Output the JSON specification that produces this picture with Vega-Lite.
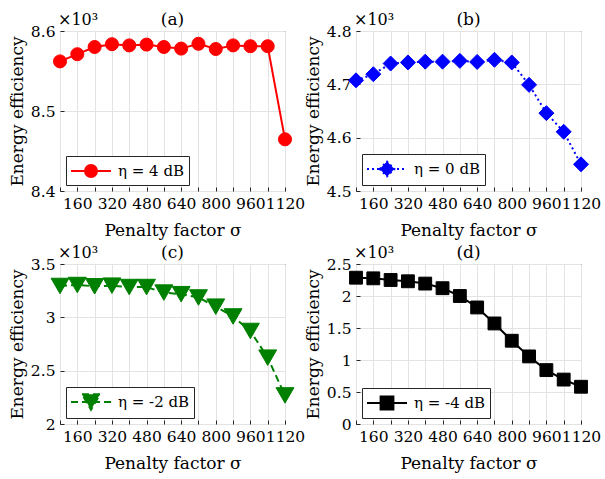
{
  "$schema": "https://vega.github.io/schema/vega-lite/v6.json",
  "background": "white",
  "padding": {"left": 7, "top": 10, "right": 2, "bottom": 2},
  "columns": 2,
  "spacing": {"row": 73, "column": 71},
  "bounds": "flush",
  "resolve": {"scale": {"color": "independent"}, "legend": {"color": "independent"}},
  "datasets": {
    "a": [
      {"sigma": 80, "ee": 8.562}, {"sigma": 160, "ee": 8.571}, {"sigma": 240, "ee": 8.580}, {"sigma": 320, "ee": 8.5835},
      {"sigma": 400, "ee": 8.582}, {"sigma": 480, "ee": 8.583}, {"sigma": 560, "ee": 8.580}, {"sigma": 640, "ee": 8.578},
      {"sigma": 720, "ee": 8.584}, {"sigma": 800, "ee": 8.5775}, {"sigma": 880, "ee": 8.582}, {"sigma": 960, "ee": 8.581},
      {"sigma": 1040, "ee": 8.581}, {"sigma": 1120, "ee": 8.4646}
    ],
    "b": [
      {"sigma": 80, "ee": 4.7075}, {"sigma": 160, "ee": 4.719}, {"sigma": 240, "ee": 4.739}, {"sigma": 320, "ee": 4.741},
      {"sigma": 400, "ee": 4.7425}, {"sigma": 480, "ee": 4.7425}, {"sigma": 560, "ee": 4.744}, {"sigma": 640, "ee": 4.742},
      {"sigma": 720, "ee": 4.746}, {"sigma": 800, "ee": 4.741}, {"sigma": 880, "ee": 4.699}, {"sigma": 960, "ee": 4.646},
      {"sigma": 1040, "ee": 4.611}, {"sigma": 1120, "ee": 4.550}
    ],
    "c": [
      {"sigma": 80, "ee": 3.294}, {"sigma": 160, "ee": 3.303}, {"sigma": 240, "ee": 3.291}, {"sigma": 320, "ee": 3.297},
      {"sigma": 400, "ee": 3.284}, {"sigma": 480, "ee": 3.284}, {"sigma": 560, "ee": 3.232}, {"sigma": 640, "ee": 3.217},
      {"sigma": 720, "ee": 3.186}, {"sigma": 800, "ee": 3.100}, {"sigma": 880, "ee": 3.008}, {"sigma": 960, "ee": 2.872},
      {"sigma": 1040, "ee": 2.622}, {"sigma": 1120, "ee": 2.268}
    ],
    "d": [
      {"sigma": 80, "ee": 2.286}, {"sigma": 160, "ee": 2.276}, {"sigma": 240, "ee": 2.25}, {"sigma": 320, "ee": 2.23},
      {"sigma": 400, "ee": 2.194}, {"sigma": 480, "ee": 2.122}, {"sigma": 560, "ee": 2.0}, {"sigma": 640, "ee": 1.821},
      {"sigma": 720, "ee": 1.571}, {"sigma": 800, "ee": 1.301}, {"sigma": 880, "ee": 1.056}, {"sigma": 960, "ee": 0.842},
      {"sigma": 1040, "ee": 0.694}, {"sigma": 1120, "ee": 0.582}
    ]
  },
  "concat": [
    {
      "width": 225, "height": 160,
      "data": {"name": "a"},
      "layer": [
        {"mark": {"type": "line", "color": "#ff0000", "strokeWidth": 2},
         "encoding": {
           "x": {"field": "sigma", "type": "quantitative", "title": "Penalty factor σ", "scale": {"domain": [80, 1120], "nice": false, "zero": false},
                 "axis": {"values": [80,160,240,320,400,480,560,640,720,800,880,960,1040,1120], "tickCount": 100, "format": "d", "labelOverlap": false, "labelExpr": "datum.value % 160 == 0 ? datum.label : ''"}},
           "y": {"field": "ee", "type": "quantitative", "title": "Energy efficiency", "scale": {"domain": [8.4, 8.6], "nice": false, "zero": false},
                 "axis": {"values": [8.4, 8.5, 8.6], "tickCount": 100, "format": ".1f", "labelOverlap": false}}
         }},
        {"mark": {"type": "point", "shape": "circle", "filled": true, "size": 170, "opacity": 1, "stroke": "#ff0000", "strokeWidth": 1},
         "encoding": {
           "x": {"field": "sigma", "type": "quantitative"},
           "y": {"field": "ee", "type": "quantitative"},
           "color": {"datum": "η = 4 dB", "type": "nominal", "scale": {"range": ["#ff0000"]},
                     "legend": {"symbolType": "M-2,0L2,0M0.6,0A0.6,0.6,0,1,1,-0.6,0A0.6,0.6,0,1,1,0.6,0Z", "symbolStrokeColor": "#ff0000", "symbolFillColor": "#ff0000"}}
         }},
        {"data": {"values": [{"label": "×10³"}]},
         "mark": {"type": "text", "align": "left", "baseline": "alphabetic", "dy": -6, "dx": -2, "font": "DejaVu Serif", "fontSize": 16, "color": "black"},
         "encoding": {"x": {"datum": 80}, "y": {"datum": 8.6}, "text": {"field": "label"}}},
        {"data": {"values": [{"label": "(a)"}]},
         "mark": {"type": "text", "align": "center", "baseline": "alphabetic", "dy": -6, "font": "DejaVu Serif", "fontSize": 17, "color": "black"},
         "encoding": {"x": {"datum": 600}, "y": {"datum": 8.6}, "text": {"field": "label"}}}
      ]
    },
    {
      "width": 225, "height": 160,
      "data": {"name": "b"},
      "layer": [
        {"mark": {"type": "line", "color": "#0000ff", "strokeWidth": 2, "strokeDash": [2, 3]},
         "encoding": {
           "x": {"field": "sigma", "type": "quantitative", "title": "Penalty factor σ", "scale": {"domain": [80, 1120], "nice": false, "zero": false},
                 "axis": {"values": [80,160,240,320,400,480,560,640,720,800,880,960,1040,1120], "tickCount": 100, "format": "d", "labelOverlap": false, "labelExpr": "datum.value % 160 == 0 ? datum.label : ''"}},
           "y": {"field": "ee", "type": "quantitative", "title": "Energy efficiency", "scale": {"domain": [4.5, 4.8], "nice": false, "zero": false},
                 "axis": {"values": [4.5, 4.6, 4.7, 4.8], "tickCount": 100, "format": ".1f", "labelOverlap": false}}
         }},
        {"mark": {"type": "point", "shape": "diamond", "filled": true, "size": 225, "opacity": 1, "stroke": "#0000ff", "strokeWidth": 1},
         "encoding": {
           "x": {"field": "sigma", "type": "quantitative"},
           "y": {"field": "ee", "type": "quantitative"},
           "color": {"datum": "η = 0 dB", "type": "nominal", "scale": {"range": ["#0000ff"]},
                     "legend": {"symbolType": "M-2,0L2,0M-0.74,0L0,-0.74L0.74,0L0,0.74Z", "symbolDash": [2, 3], "symbolStrokeColor": "#0000ff", "symbolFillColor": "#0000ff"}}
         }},
        {"data": {"values": [{"label": "×10³"}]},
         "mark": {"type": "text", "align": "left", "baseline": "alphabetic", "dy": -6, "dx": -2, "font": "DejaVu Serif", "fontSize": 16, "color": "black"},
         "encoding": {"x": {"datum": 80}, "y": {"datum": 4.8}, "text": {"field": "label"}}},
        {"data": {"values": [{"label": "(b)"}]},
         "mark": {"type": "text", "align": "center", "baseline": "alphabetic", "dy": -6, "font": "DejaVu Serif", "fontSize": 17, "color": "black"},
         "encoding": {"x": {"datum": 600}, "y": {"datum": 4.8}, "text": {"field": "label"}}}
      ]
    },
    {
      "width": 225, "height": 160,
      "data": {"name": "c"},
      "layer": [
        {"mark": {"type": "line", "color": "#008000", "strokeWidth": 2, "strokeDash": [7, 4]},
         "encoding": {
           "x": {"field": "sigma", "type": "quantitative", "title": "Penalty factor σ", "scale": {"domain": [80, 1120], "nice": false, "zero": false},
                 "axis": {"values": [80,160,240,320,400,480,560,640,720,800,880,960,1040,1120], "tickCount": 100, "format": "d", "labelOverlap": false, "labelExpr": "datum.value % 160 == 0 ? datum.label : ''"}},
           "y": {"field": "ee", "type": "quantitative", "title": "Energy efficiency", "scale": {"domain": [2, 3.5], "nice": false, "zero": false},
                 "axis": {"values": [2, 2.5, 3, 3.5], "tickCount": 100, "format": "~g", "labelOverlap": false}}
         }},
        {"mark": {"type": "point", "shape": "triangle-down", "filled": true, "size": 320, "opacity": 1, "stroke": "#008000", "strokeWidth": 1},
         "encoding": {
           "x": {"field": "sigma", "type": "quantitative"},
           "y": {"field": "ee", "type": "quantitative"},
           "color": {"datum": "η = -2 dB", "type": "nominal", "scale": {"range": ["#008000"]},
                     "legend": {"symbolType": "M-2,0L2,0M-0.9,-0.78L0.9,-0.78L0,0.78Z", "symbolDash": [7, 4], "symbolStrokeColor": "#008000", "symbolFillColor": "#008000"}}
         }},
        {"data": {"values": [{"label": "×10³"}]},
         "mark": {"type": "text", "align": "left", "baseline": "alphabetic", "dy": -6, "dx": -2, "font": "DejaVu Serif", "fontSize": 16, "color": "black"},
         "encoding": {"x": {"datum": 80}, "y": {"datum": 3.5}, "text": {"field": "label"}}},
        {"data": {"values": [{"label": "(c)"}]},
         "mark": {"type": "text", "align": "center", "baseline": "alphabetic", "dy": -6, "font": "DejaVu Serif", "fontSize": 17, "color": "black"},
         "encoding": {"x": {"datum": 600}, "y": {"datum": 3.5}, "text": {"field": "label"}}}
      ]
    },
    {
      "width": 225, "height": 160,
      "data": {"name": "d"},
      "layer": [
        {"mark": {"type": "line", "color": "#000000", "strokeWidth": 2},
         "encoding": {
           "x": {"field": "sigma", "type": "quantitative", "title": "Penalty factor σ", "scale": {"domain": [80, 1120], "nice": false, "zero": false},
                 "axis": {"values": [80,160,240,320,400,480,560,640,720,800,880,960,1040,1120], "tickCount": 100, "format": "d", "labelOverlap": false, "labelExpr": "datum.value % 160 == 0 ? datum.label : ''"}},
           "y": {"field": "ee", "type": "quantitative", "title": "Energy efficiency", "scale": {"domain": [0, 2.5], "nice": false, "zero": false},
                 "axis": {"values": [0, 0.5, 1, 1.5, 2, 2.5], "tickCount": 100, "format": "~g", "labelOverlap": false}}
         }},
        {"mark": {"type": "point", "shape": "square", "filled": true, "size": 165, "opacity": 1, "stroke": "#000000", "strokeWidth": 1},
         "encoding": {
           "x": {"field": "sigma", "type": "quantitative"},
           "y": {"field": "ee", "type": "quantitative"},
           "color": {"datum": "η = -4 dB", "type": "nominal", "scale": {"range": ["#000000"]},
                     "legend": {"symbolType": "M-2,0L2,0M-0.64,-0.64L0.64,-0.64L0.64,0.64L-0.64,0.64Z", "symbolStrokeColor": "#000000", "symbolFillColor": "#000000"}}
         }},
        {"data": {"values": [{"label": "×10³"}]},
         "mark": {"type": "text", "align": "left", "baseline": "alphabetic", "dy": -6, "dx": -2, "font": "DejaVu Serif", "fontSize": 16, "color": "black"},
         "encoding": {"x": {"datum": 80}, "y": {"datum": 2.5}, "text": {"field": "label"}}},
        {"data": {"values": [{"label": "(d)"}]},
         "mark": {"type": "text", "align": "center", "baseline": "alphabetic", "dy": -6, "font": "DejaVu Serif", "fontSize": 17, "color": "black"},
         "encoding": {"x": {"datum": 600}, "y": {"datum": 2.5}, "text": {"field": "label"}}}
      ]
    }
  ],
  "config": {
    "view": {"stroke": "#262626", "strokeWidth": 1},
    "axis": {
      "labelFont": "DejaVu Serif", "labelFontSize": 15.5, "labelColor": "black",
      "titleFont": "DejaVu Serif", "titleFontSize": 17, "titleFontWeight": "normal", "titleColor": "black",
      "domain": false, "ticks": true, "tickSize": -4, "tickColor": "#262626", "tickWidth": 1,
      "gridColor": "#e3e3e3", "gridWidth": 1, "gridOpacity": 1,
      "labelOverlap": false, "labelFlush": false, "labelBound": false
    },
    "axisX": {"labelPadding": 9, "titlePadding": 11},
    "axisY": {"labelPadding": 9, "titlePadding": 4},
    "legend": {
      "orient": "bottom-left", "offset": 6, "title": null,
      "strokeColor": "#262626", "fillColor": "white", "padding": 4, "cornerRadius": 0,
      "symbolSize": 400, "symbolOffset": 10, "symbolStrokeWidth": 2, "labelOffset": 16,
      "labelFont": "DejaVu Serif", "labelFontSize": 15, "labelColor": "black"
    }
  }
}
